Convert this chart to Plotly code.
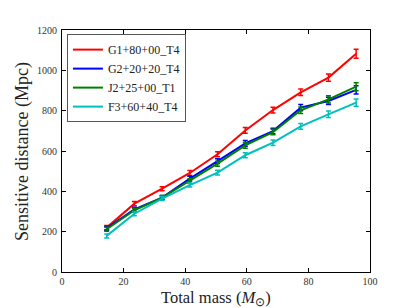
import plotly.graph_objects as go

mass = [14.5, 23.5, 32.5, 41.5, 50.5, 59.5, 68.5, 77.5, 86.5, 95.5]
names = ["G1+80+00_T4", "G2+20+20_T4", "J2+25+00_T1", "F3+60+40_T4"]
colors = ["#ff0000", "#0000ff", "#008000", "#00bfbf"]
g1 = [220, 339, 413, 491, 584, 702, 803, 891, 964, 1082]
g2 = [217, 311, 369, 463, 550, 638, 699, 815, 848, 903]
j2 = [212, 306, 369, 451, 537, 628, 694, 802, 856, 919]
f3 = [179, 289, 364, 431, 493, 579, 641, 722, 782, 840]
g1_err = [10, 10, 10, 12, 12, 14, 14, 16, 18, 22]
g2_err = [10, 10, 10, 12, 12, 14, 14, 16, 18, 20]
j2_err = [10, 10, 10, 12, 12, 14, 14, 16, 18, 20]
f3_err = [10, 10, 10, 10, 12, 12, 14, 14, 16, 18]

series = [g1, g2, j2, f3]
errs = [g1_err, g2_err, j2_err, f3_err]

font = "Liberation Serif"
fig = go.Figure()
for n, c, y, e in zip(names, colors, series, errs):
    fig.add_trace(go.Scatter(
        x=mass, y=y, name=n, mode="lines",
        line=dict(color=c, width=2),
        error_y=dict(type="data", array=e, visible=True, color=c, thickness=1.5, width=2.5),
    ))

axis_common = dict(
    showgrid=False, zeroline=False, showline=True, linecolor="black", linewidth=1,
    mirror="ticks", ticks="inside", ticklen=4, tickcolor="black", automargin=False,
    tickfont=dict(family=font, size=10, color="#333333"),
)
fig.update_layout(
    width=403, height=300,
    margin=dict(l=54, r=41, t=22, b=36),
    paper_bgcolor="white", plot_bgcolor="white",
    font=dict(family=font, color="#222222"),
    xaxis=dict(range=[0, 100], tickvals=[0, 20, 40, 60, 80, 100], ticklabelstandoff=0,
               **axis_common),
    yaxis=dict(range=[0, 1200], tickvals=[0, 200, 400, 600, 800, 1000, 1200],
               ticklabelstandoff=2, **axis_common),
    legend=dict(x=0.016, y=0.983, xanchor="left", yanchor="top",
                bordercolor="#555555", borderwidth=1, bgcolor="white",
                font=dict(family=font, size=12), tracegroupgap=0, itemwidth=30),
    showlegend=True,
    annotations=[
        dict(text="Total mass (<i>M</i><sub>⊙</sub>)", xref="paper", yref="paper",
             x=0.5, y=-0.108, xanchor="center", yanchor="middle", showarrow=False,
             font=dict(family=font, size=16.5, color="#222222")),
        dict(text="Sensitive distance (Mpc)", xref="paper", yref="paper",
             x=-0.13, y=0.5, xanchor="center", yanchor="middle", textangle=-90,
             showarrow=False, font=dict(family=font, size=18, color="#222222")),
    ],
)
fig.write_html("out.html")
